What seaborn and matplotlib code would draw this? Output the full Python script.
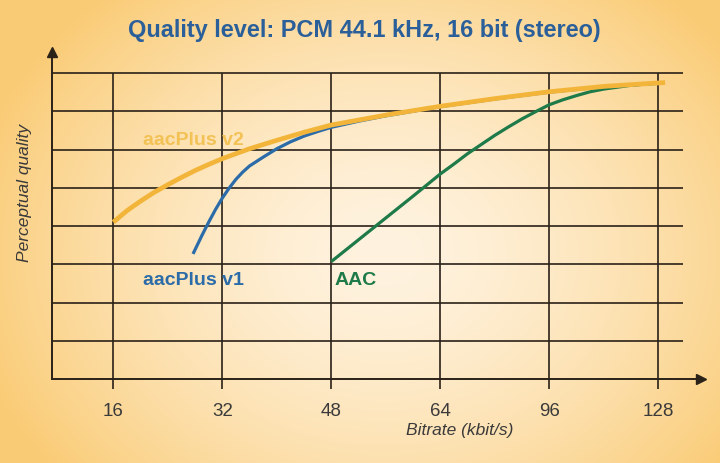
import numpy as np
import pandas as pd
import matplotlib
matplotlib.use("Agg")
import matplotlib.pyplot as plt
import seaborn as sns

# ---------------- data ----------------
bitrate_ticks = [16, 32, 48, 64, 96, 128]
tick_labels = ["16", "32", "48", "64", "96", "128"]
quality_grid = [1, 2, 3, 4, 5, 6, 7, 8]

v2_kbps = [16, 17, 18, 20, 22, 24, 26, 28, 30, 32, 36, 40, 44, 48, 56, 64, 80, 96,
           112, 128, 130]
v2_quality = [4.10, 4.25, 4.40, 4.65, 4.88, 5.08, 5.27, 5.45, 5.61, 5.76, 6.02, 6.24,
              6.45, 6.64, 6.90, 7.13, 7.33, 7.51, 7.65, 7.74, 7.75]

v1_kbps = [27.7, 29, 30, 31, 32, 33, 34, 35, 36, 38, 40, 42, 44, 46, 48, 52, 56, 64,
           80, 96, 112, 128]
v1_quality = [3.27, 3.75, 4.10, 4.43, 4.73, 4.99, 5.22, 5.41, 5.57, 5.80, 6.02, 6.20,
              6.35, 6.47, 6.58, 6.74, 6.88, 7.12, 7.32, 7.50, 7.64, 7.73]

aac_kbps = [48, 52, 56, 60, 64, 68, 72, 76, 80, 84, 88, 92, 96, 100, 104, 108, 112,
            120, 128]
aac_quality = [3.07, 3.64, 4.21, 4.78, 5.36, 5.62, 5.89, 6.13, 6.37, 6.59, 6.80, 6.99,
               7.17, 7.30, 7.41, 7.51, 7.58, 7.68, 7.74]

# ---------------- styling ----------------
sns.set_theme(style="white")
plt.rcParams["font.family"] = ["Liberation Sans", "DejaVu Sans"]

W, H = 720, 464
fig = plt.figure(figsize=(W / 100, H / 100), dpi=100)

# background radial gradient
bg = fig.add_axes([0, 0, 1, 1], zorder=-10)
yy, xx = np.mgrid[0:H, 0:W]
t = np.sqrt(((xx - 385) / 370.0) ** 2 + ((yy - 255) / 300.0) ** 2)
t = np.clip(t, 0, 1.15) ** 1.5
c0 = np.array([255, 243, 224]) / 255.0
c1 = np.array([251, 211, 138]) / 255.0
img = c0[None, None, :] + (c1 - c0)[None, None, :] * t[..., None]
bg.imshow(np.clip(img, 0, 1), aspect="auto", extent=(0, W, H, 0))
bg.set_axis_off()

# axes position in pixels
left_px, right_px, top_px, bottom_px = 51.5, 701.0, 53.0, 380.0
ax = fig.add_axes([left_px / W, 1 - bottom_px / H,
                   (right_px - left_px) / W, (bottom_px - top_px) / H])
ax.set_facecolor("none")


def fwd(x):
    x = np.asarray(x, dtype=float)
    return np.where(x < 64, (x - 16) / 16.0, 3 + (x - 64) / 32.0)


def inv(i):
    i = np.asarray(i, dtype=float)
    return np.where(i < 3, 16 + 16 * i, 64 + 32 * (i - 3))


ax.set_xscale("function", functions=(fwd, inv))
xl = inv((left_px - 113.3) / 109.0)
xr = inv((right_px - 113.3) / 109.0)
ax.set_xlim(float(xl), float(xr))
ax.set_ylim(0, (bottom_px - top_px) / 38.25)

grid_col = "#2a2118"
x_grid_end = float(inv((683 - 113.3) / 109.0))
ax.hlines(quality_grid, float(xl), x_grid_end, colors=grid_col, linewidth=1.2, zorder=1)
ax.vlines(bitrate_ticks, 0, max(quality_grid), colors=grid_col, linewidth=1.2, zorder=1)

df = pd.concat([
    pd.DataFrame({"kbps": aac_kbps, "q": aac_quality, "codec": "AAC"}),
    pd.DataFrame({"kbps": v1_kbps, "q": v1_quality, "codec": "aacPlus v1"}),
    pd.DataFrame({"kbps": v2_kbps, "q": v2_quality, "codec": "aacPlus v2"}),
])
palette = {"aacPlus v2": "#F2B53A", "aacPlus v1": "#2B6BA8", "AAC": "#1E7A48"}
widths = {"aacPlus v2": 3.4, "aacPlus v1": 2.3, "AAC": 2.3}
for name in ["AAC", "aacPlus v1", "aacPlus v2"]:
    sns.lineplot(data=df[df["codec"] == name], x="kbps", y="q", color=palette[name],
                 linewidth=widths[name], ax=ax, legend=False, sort=False,
                 solid_capstyle="butt", solid_joinstyle="round", zorder=3)

# series labels
lab_fs = 14
ax.text(27.7, 6.27, "aacPlus v2", color="#F3C255", fontsize=lab_fs, fontweight="bold",
        ha="center", va="center", zorder=4)
ax.text(27.7, 2.61, "aacPlus v1", color="#2B6BA8", fontsize=lab_fs, fontweight="bold",
        ha="center", va="center", zorder=4)
ax.text(51.5, 2.59, "AAC", color="#1E7A48", fontsize=lab_fs, fontweight="bold",
        ha="center", va="center", zorder=4)

# spines / ticks
for s in ["top", "right"]:
    ax.spines[s].set_visible(False)
for s in ["left", "bottom"]:
    ax.spines[s].set_color(grid_col)
    ax.spines[s].set_linewidth(1.4)
ax.plot(1, 0, ">", color=grid_col, markersize=7, transform=ax.transAxes, clip_on=False)
ax.plot(0, 1, "^", color=grid_col, markersize=7, transform=ax.transAxes, clip_on=False)

ax.set_xticks(bitrate_ticks)
ax.set_xticklabels(tick_labels)
ax.set_yticks([])
ax.xaxis.set_minor_locator(matplotlib.ticker.NullLocator())
ax.tick_params(axis="x", direction="out", length=7.5, width=1.2, color=grid_col,
               labelsize=13.5, labelcolor="#3a3a3a", pad=9, bottom=True)

ax.set_xlabel("Bitrate (kbit/s)", fontsize=12.5, style="italic", color="#3a3a3a")
ax.xaxis.set_label_coords((460 - left_px) / (right_px - left_px),
                          (bottom_px - 423) / (bottom_px - top_px))
ax.xaxis.label.set_va("top")
ax.set_ylabel("Perceptual quality", fontsize=12.5, style="italic", color="#3a3a3a")
ax.yaxis.set_label_coords((32 - left_px) / (right_px - left_px),
                          (bottom_px - 193) / (bottom_px - top_px))

fig.text(364 / W, 1 - 31 / H, "Quality level: PCM 44.1 kHz, 16 bit (stereo)",
         ha="center", va="center", fontsize=16.9, fontweight="bold", color="#2B5F9A")

fig.savefig("out.png", dpi=100)
